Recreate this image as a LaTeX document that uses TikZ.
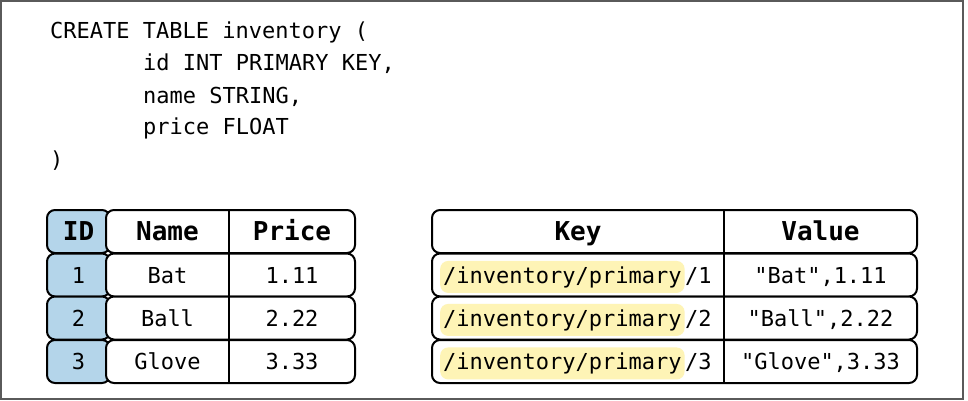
\documentclass[tikz,border=0pt]{standalone}
\usepackage{fontspec}
\setmonofont{DejaVu Sans Mono}
\usetikzlibrary{positioning}
\definecolor{idblue}{HTML}{B4D5EA}
\definecolor{keyyellow}{HTML}{FEF4B6}
\definecolor{framegray}{HTML}{5A5A5A}

\begin{document}
\begin{tikzpicture}[x=1pt, y=-1pt,
    code/.style={anchor=base west, inner sep=0pt, font=\ttfamily\fontsize{22}{26}\selectfont},
    body/.style={inner sep=0pt, text height=16pt, text depth=0pt, font=\ttfamily\fontsize{22}{26}\selectfont},
    head/.style={inner sep=0pt, text height=18pt, text depth=0pt, font=\ttfamily\bfseries\fontsize{26}{30}\selectfont},
    cell/.style={draw, line width=2pt, rounded corners=8pt, minimum height=43pt},
    idcell/.style={cell, fill=idblue, minimum width=63pt},
    rowcell/.style={cell, fill=white, minimum width=249pt},
    kvcell/.style={cell, fill=white, minimum width=485pt},
    hl/.style={inner ysep=0pt, inner xsep=3pt, fill=keyyellow, rounded corners=8pt,
        minimum height=32pt, anchor=base west, font=\ttfamily\fontsize{22}{26}\selectfont}
]
    \useasboundingbox (0, 0) rectangle (968, 401);
    \draw[framegray, line width=1.5pt] (1, 1) rectangle (963, 399);

    % schema
    \node[code] at (50, 39)(c0){CREATE TABLE inventory (};
    \node[code] at (143, 71)(c1){id INT PRIMARY KEY,};
    \node[code] at (143, 103)(c2){name STRING,};
    \node[code] at (143, 135)(c3){price FLOAT};
    \node[code] at (50, 167)(c4){)};

    % SQL table
    \node[idcell, head] at (78.5, 231.5)(idh){ID};
    \node[idcell, body] at (78.5, 275)(id1){1};
    \node[idcell, body] at (78.5, 318)(id2){2};
    \node[idcell, body] at (78.5, 361.5)(id3){3};
    \node[rowcell] at (230.5, 231.5)(rh){};
    \node[rowcell] at (230.5, 275)(r1){};
    \node[rowcell] at (230.5, 318)(r2){};
    \node[rowcell] at (230.5, 361.5)(r3){};
    \coordinate (ltop) at (229, 210);
    \coordinate (lbot) at (229, 383);
    \draw[line width=2pt] (ltop) -- (lbot);

    \node[head] at (167.5, 231.5)(nameh){Name};
    \node[head] at (292, 231.5)(priceh){Price};
    \node[body] at (167.5, 275)(name1){Bat};
    \node[body] at (292, 275)(price1){1.11};
    \node[body] at (167.5, 318)(name2){Ball};
    \node[body] at (292, 318)(price2){2.22};
    \node[body] at (167.5, 361.5)(name3){Glove};
    \node[body] at (292, 361.5)(price3){3.33};

    % KV table
    \node[kvcell] at (674.5, 231.5)(kvh){};
    \node[kvcell] at (674.5, 275)(kv1){};
    \node[kvcell] at (674.5, 318)(kv2){};
    \node[kvcell] at (674.5, 361.5)(kv3){};
    \coordinate (rtop) at (724, 210);
    \coordinate (rbot) at (724, 383);
    \draw[line width=2pt] (rtop) -- (rbot);

    \node[head] at (578, 231.5)(keyh){Key};
    \node[head] at (820.5, 231.5)(valh){Value};

    \node[hl] at (440, 283)(k1){/inventory/primary};
    \node[code, base right=0pt of k1]{/1};
    \node[hl] at (440, 326)(k2){/inventory/primary};
    \node[code, base right=0pt of k2]{/2};
    \node[hl] at (440, 369.5)(k3){/inventory/primary};
    \node[code, base right=0pt of k3]{/3};

    \node[body] at (820.5, 275)(v1){"Bat",1.11};
    \node[body] at (820.5, 318)(v2){"Ball",2.22};
    \node[body] at (820.5, 361.5)(v3){"Glove",3.33};
\end{tikzpicture}
\end{document}
